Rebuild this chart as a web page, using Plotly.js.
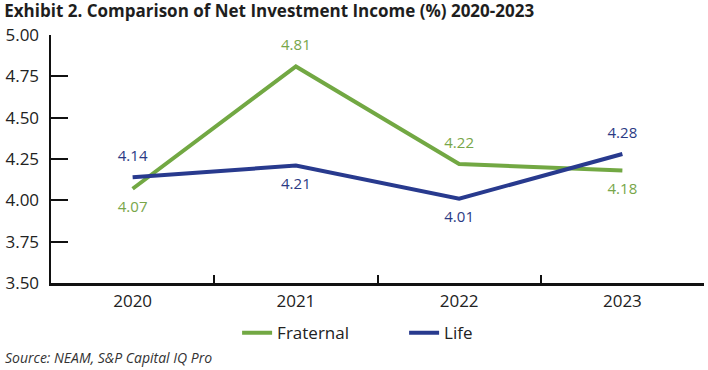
<!DOCTYPE html>
<html>
<head>
<meta charset="utf-8">
<script src="https://cdn.plot.ly/plotly-3.0.1.min.js"></script>
<style>html,body{margin:0;padding:0;background:#fff;}#chart{width:708px;height:370px;}</style>
</head>
<body>
<div id="chart"></div>
<script>
var years = ['2020', '2021', '2022', '2023'];
var fraternal = [4.07, 4.81, 4.22, 4.18];
var life = [4.14, 4.21, 4.01, 4.28];
var fraternalPos = ['bottom center', 'top center', 'top center', 'bottom center'];
var lifePos = ['top center', 'bottom center', 'bottom center', 'top center'];
var yTicks = [3.5, 3.75, 4.0, 4.25, 4.5, 4.75, 5.0];
var yTickText = ['3.50', '3.75', '4.00', '4.25', '4.50', '4.75', '5.00'];

var FONT = '"Open Sans", Lato, sans-serif';
var green = '#72a843';
var navy = '#283a8e';

var traces = [
  {
    x: years, y: fraternal, name: 'Fraternal', type: 'scatter', mode: 'lines+markers+text',
    line: {color: green, width: 4},
    marker: {size: 18, color: 'rgba(0,0,0,0)'},
    text: fraternal.map(function(v){return v.toFixed(2);}),
    textposition: fraternalPos,
    textfont: {family: FONT, size: 15, color: '#78a649'},
    hoverinfo: 'none'
  },
  {
    x: years, y: life, name: 'Life', type: 'scatter', mode: 'lines+markers+text',
    line: {color: navy, width: 4},
    marker: {size: 18, color: 'rgba(0,0,0,0)'},
    text: life.map(function(v){return v.toFixed(2);}),
    textposition: lifePos,
    textfont: {family: FONT, size: 15, color: '#2b3a84'},
    hoverinfo: 'none'
  }
];

var layout = {
  width: 708, height: 370,
  margin: {l: 51, r: 4, t: 35, b: 87},
  paper_bgcolor: '#fff', plot_bgcolor: '#fff',
  font: {family: FONT, size: 17, color: '#222'},
  showlegend: true,
  title: {
    text: '<b>Exhibit 2. Comparison of Net Investment Income (%) 2020-2023</b>',
    font: {family: FONT, size: 17, color: '#1e1e1e'},
    x: 0.006, xanchor: 'left', y: 0.985, yanchor: 'top'
  },
  xaxis: {
    type: 'category', range: [-0.5, 3.5],
    showline: true, linecolor: '#111', linewidth: 2.5,
    ticks: 'inside', tickson: 'boundaries', ticklen: 8, tickwidth: 2, tickcolor: '#111',
    showgrid: false, zeroline: false,
    tickfont: {family: FONT, size: 17, color: '#222'},
    ticklabelstandoff: 1,
    fixedrange: true
  },
  yaxis: {
    range: [3.5, 5.0],
    tickvals: yTicks, ticktext: yTickText,
    showline: true, linecolor: '#111', linewidth: 2.5,
    ticks: 'inside', ticklen: 17, tickwidth: 2, tickcolor: '#111',
    showgrid: false, zeroline: false,
    tickfont: {family: FONT, size: 17, color: '#222'},
    ticklabelstandoff: 6,
    fixedrange: true
  },
  legend: {
    orientation: 'h', x: 0.285, xanchor: 'left', y: -0.13, yanchor: 'top',
    font: {family: FONT, size: 17, color: '#222'},
    entrywidth: 122, entrywidthmode: 'pixels', tracegroupgap: 0
  },
  annotations: [
    {
      text: '<i>Source: NEAM, S&P Capital IQ Pro</i>',
      xref: 'paper', yref: 'paper', x: -0.073, y: -0.255, xanchor: 'left', yanchor: 'top',
      showarrow: false, font: {family: FONT, size: 14, color: '#333'}
    }
  ]
};

Plotly.newPlot('chart', traces, layout, {displayModeBar: false, staticPlot: true});
</script>
</body>
</html>
